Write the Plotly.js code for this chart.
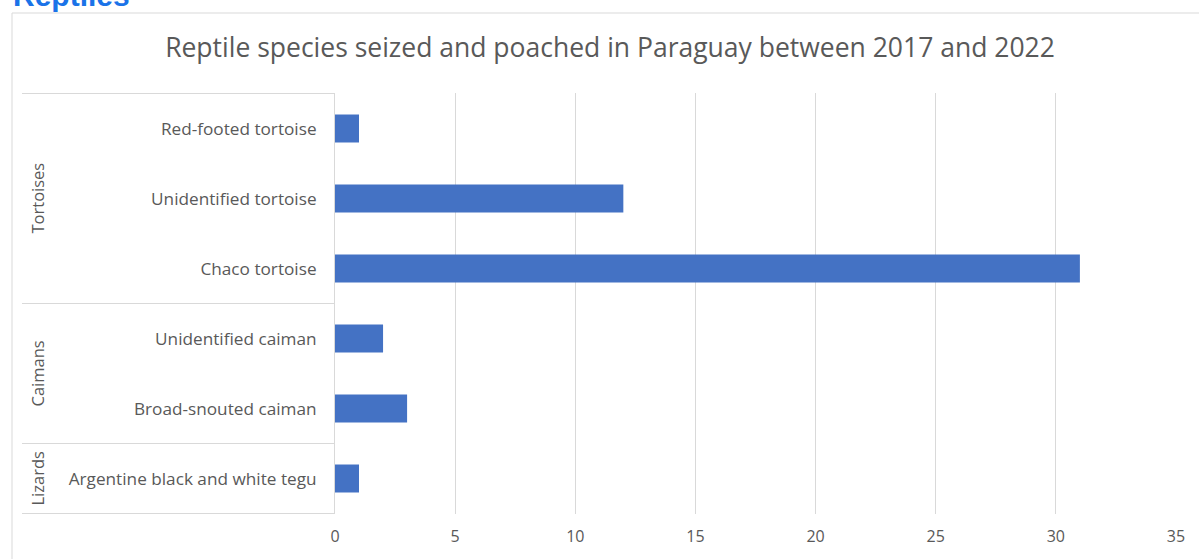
<!DOCTYPE html>
<html>
<head>
<meta charset="utf-8">
<script src="https://cdn.plot.ly/plotly-3.0.1.min.js"></script>
<style>
html,body{margin:0;padding:0;background:#fff;overflow:hidden;}
#chart{width:1199px;height:559px;}
</style>
</head>
<body>
<div id="chart"></div>
<script>
// Data (top to bottom)
const species = ["Red-footed tortoise","Unidentified tortoise","Chaco tortoise","Unidentified caiman","Broad-snouted caiman","Argentine black and white tegu"];
const groups = ["Tortoises","Tortoises","Tortoises","Caimans","Caimans","Lizards"];
const counts = [1, 12, 31, 2, 3, 1];
const xTicks = [0, 5, 10, 15, 20, 25, 30, 35];
const chartTitle = "Reptile species seized and poached in Paraguay between 2017 and 2022";
const heading = "Reptiles";

const W = 1199, H = 559;
const L = 335, R = 1176, T = 93, B = 514;
const pw = R - L, ph = B - T;
const px = p => (p - L) / pw;      // pixel x -> paper x
const py = p => (B - p) / ph;      // pixel y -> paper y
const grey = "#595959";
const font = "Open Sans, Noto Sans, sans-serif";

// group spans
const spans = [];
groups.forEach((g, i) => {
  const last = spans[spans.length - 1];
  if (last && last.name === g) last.end = i; else spans.push({name: g, start: i, end: i});
});

const shapes = [];
const annotations = [];
// outer border box
shapes.push({type:"rect", xref:"paper", yref:"paper", x0:px(12), x1:px(1215), y0:py(13), y1:py(575),
  line:{color:"#d9d9d9", width:1}, fillcolor:"rgba(0,0,0,0)", layer:"below"});
// separators
const bounds = [-0.5];
spans.forEach(s => bounds.push(s.end + 0.5));
bounds.forEach(b => shapes.push({type:"line", xref:"paper", yref:"y", x0:px(22), x1:0, y0:b, y1:b,
  line:{color:"#d9d9d9", width:1}}));
spans.forEach(s => annotations.push({xref:"paper", yref:"y", x:px(37), y:(s.start + s.end) / 2,
  text:s.name, textangle:-90, showarrow:false, xanchor:"center", yanchor:"middle",
  font:{family:font, size:16.5, color:grey}}));
// heading
annotations.push({xref:"paper", yref:"paper", x:px(11), y:py(-4), xanchor:"left", yanchor:"middle",
  text:"<b>" + heading + "</b>", showarrow:false,
  font:{family:"Liberation Sans, Arial, sans-serif", size:30, color:"#1a73e8"}});

const trace = {
  type:"bar", orientation:"h", x:counts, y:species,
  marker:{color:"#4472c4"}, width:0.4, hoverinfo:"x+y"
};

const layout = {
  width:W, height:H,
  margin:{l:L, r:W - R, t:T, b:H - B, pad:0},
  paper_bgcolor:"#ffffff", plot_bgcolor:"#ffffff",
  showlegend:false,
  title:{text:chartTitle, x:610 / W, xanchor:"center", y:1 - 48 / H, yanchor:"middle",
    xref:"container", yref:"container", font:{family:font, size:26.5, color:grey}},
  xaxis:{range:[0, 35], tickvals:xTicks, ticktext:xTicks.map(String), showgrid:true,
    gridcolor:"#d9d9d9", gridwidth:1, zeroline:false, showline:false, ticks:"",
    ticklabelstandoff:11, tickfont:{family:font, size:16, color:grey}, fixedrange:true},
  yaxis:{type:"category", categoryorder:"array", categoryarray:species, autorange:"reversed",
    showgrid:false, zeroline:false, showline:true, linecolor:"#d9d9d9", linewidth:1, ticks:"",
    ticklabelstandoff:14, tickfont:{family:font, size:17.2, color:grey}, fixedrange:true},
  shapes:shapes, annotations:annotations
};

Plotly.newPlot("chart", [trace], layout, {displayModeBar:false, staticPlot:true});
</script>
</body>
</html>
